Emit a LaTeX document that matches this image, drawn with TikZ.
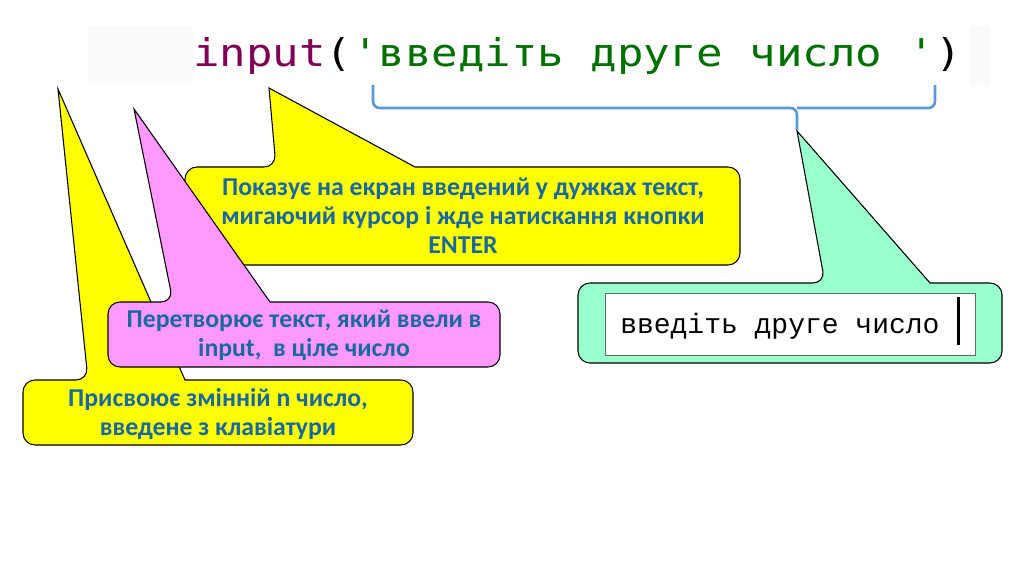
\documentclass[tikz,border=0pt]{standalone}
\usepackage{fontspec}
\newfontfamily\calfont{Carlito}
\newfontfamily\codefont[FakeStretch=1.15]{DejaVu Sans Mono}
\newfontfamily\courfont{Liberation Mono}
\definecolor{txtblue}{RGB}{25,105,160}
\definecolor{kwmag}{RGB}{127,0,85}
\definecolor{strgreen}{RGB}{0,112,0}
\definecolor{bracecol}{RGB}{91,155,213}
\definecolor{callyellow}{RGB}{255,255,0}
\definecolor{callpink}{RGB}{255,153,255}
\definecolor{callgreen}{RGB}{153,255,204}
\tikzset{
  callout/.style={draw=black, line width=0.8pt, line join=miter},
  calltext/.style={text=txtblue, align=center, font=\calfont\bfseries\fontsize{19.3}{21.8}\selectfont},
}
\begin{document}
\begin{tikzpicture}[x=0.75pt,y=-0.75pt]
\useasboundingbox (0,0) rectangle (1024,574);
% code background
\fill[black!2] (88,26) rectangle (990,85);
\fill[white] (193,26) rectangle (970,85);
\node[anchor=base west, inner sep=0pt, font=\codefont\fontsize{28.7}{30}\selectfont] (code) at (193,67)
  {\textcolor{kwmag}{input}\textcolor{black}{(}\textcolor{strgreen}{'введіть друге число '}\textcolor{black}{)}};
% brace
\draw[bracecol, line width=2pt, rounded corners=5pt]
  (373,85) -- (373,108) -- (797,108) -- (797,130);
\draw[bracecol, line width=2pt, rounded corners=5pt]
  (935,85) -- (935,108) -- (797,108);
\coordinate (bracetip) at (797,131);
% green callout
\draw[callout, fill=callgreen]
  (578,323) [rounded corners=9pt] |- (825,283) [sharp corners] -- (bracetip) -- (930,283) [rounded corners=9pt] -| (1002,323) |- (578,363) -- cycle;
\node[draw=gray!80!black, line width=0.6pt, fill=white, minimum width=370*0.75pt, minimum height=62*0.75pt, inner sep=0pt] (screen) at (790,324) {};
\node[anchor=base west, inner sep=0pt, font=\courfont\fontsize{21}{22}\selectfont] (screentext) at (620,333) {введіть друге число};
\fill[black] (956.5,297) rectangle (959.5,345);
% upper yellow callout
\coordinate (tipA) at (269,88);
\draw[callout, fill=callyellow]
  (185,216) [rounded corners=9pt] |- (276,167) [sharp corners] -- (tipA) -- (415,167) [rounded corners=9pt] -| (740,216) |- (185,265) -- cycle;
\node[calltext] (textA) at (463,216) {Показує на екран введений у дужках текст,\\ мигаючий курсор і жде натискання кнопки\\ ENTER};
% lower yellow callout
\coordinate (tipC) at (58,89);
\draw[callout, fill=callyellow]
  (23,412) [rounded corners=9pt] |- (88,380) [sharp corners] -- (tipC) -- (185,380) [rounded corners=9pt] -| (413,412) |- (23,445) -- cycle;
\node[calltext] (textC) at (218,414) {Присвоює змінній n число,\\ введене з клавіатури};
% pink callout
\coordinate (tipB) at (134,109);
\draw[callout, fill=callpink]
  (108,334) [rounded corners=9pt] |- (173,302) [sharp corners] -- (tipB) -- (270,302) [rounded corners=9pt] -| (500,334) |- (108,367) -- cycle;
\node[calltext] (textB) at (304,335) {Перетворює текст, який ввели в\\ input,\ \ в ціле число};
\end{tikzpicture}
\end{document}
